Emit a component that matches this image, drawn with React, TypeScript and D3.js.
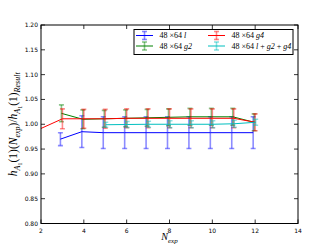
import React from 'react';
import * as d3 from 'd3';

// N_exp values and ratios
const xL = [3, 4, 5, 6, 7, 8, 9, 10, 11, 12];
const yL = [0.970, 0.985, 0.983, 0.983, 0.983, 0.983, 0.983, 0.983, 0.983, 0.983];
const eL = [0.013, 0.032, 0.032, 0.032, 0.032, 0.032, 0.032, 0.032, 0.032, 0.032];

const xG2 = [3, 4, 5, 6, 7, 8, 9, 10, 11, 12];
const yG2 = [1.022, 1.010, 1.011, 1.012, 1.013, 1.014, 1.015, 1.015, 1.015, 1.004];
const eG2 = [0.017, 0.019, 0.017, 0.017, 0.017, 0.017, 0.017, 0.017, 0.017, 0.017];

const xG4 = [1, 3, 4, 5, 6, 7, 8, 9, 10, 11, 12];
const yG4 = [0.972, 1.011, 1.011, 1.011, 1.012, 1.012, 1.012, 1.012, 1.012, 1.012, 1.004];
const eG4 = [0.02, 0.02, 0.019, 0.019, 0.019, 0.019, 0.019, 0.019, 0.019, 0.019, 0.017];

const xAll = [5, 6, 7, 8, 9, 10, 11, 12];
const yAll = [0.999, 0.9995, 1.0, 1.0, 1.0, 1.0, 1.001, 1.004];
const eAll = [0.005, 0.006, 0.006, 0.007, 0.007, 0.007, 0.007, 0.006];

const xTicks = [2, 4, 6, 8, 10, 12, 14];
const yTicks = [0.8, 0.85, 0.9, 0.95, 1.0, 1.05, 1.1, 1.15, 1.2];

const series = [
  { key: 'l', x: xL, y: yL, e: eL, color: '#0000ff', dx: -2, label: [['48 ×64 ', false], ['l', true]] },
  { key: 'g2', x: xG2, y: yG2, e: eG2, color: '#008000', dx: -1, label: [['48 ×64 ', false], ['g2', true]] },
  { key: 'g4', x: xG4, y: yG4, e: eG4, color: '#ff0000', dx: 0, label: [['48 ×64 ', false], ['g4', true]] },
  { key: 'all', x: xAll, y: yAll, e: eAll, color: '#00bfbf', dx: 0.5, label: [['48 ×64 ', false], ['l', true], [' + ', false], ['g2', true], [' + ', false], ['g4', true]] },
];

const W = 332, H = 249;
const left = 41, right = 298, top = 25, bottom = 223.5;

const serif = "'Liberation Serif', 'DejaVu Serif', serif";
const sans = "'DejaVu Sans', sans-serif";

// [text, italic, level]
const yLabelParts: [string, boolean, number][] = [
  ['h', true, 0], ['A', true, 1], ['1', false, 2], ['(1)(', false, 0], ['N', true, 0],
  ['exp', true, 1], [')/', false, 0], ['h', true, 0], ['A', true, 1], ['1', false, 2],
  ['(1)', false, 0], ['Result', true, 1],
];
const xLabelParts: [string, boolean, number][] = [['N', true, 0], ['exp', true, 1]];

function MathText({ parts, x, y, transform, sizes, shift }: any) {
  let prev = 0;
  return (
    <text x={x} y={y} transform={transform} textAnchor="middle" fontFamily={serif} fill="#000">
      {parts.map(([t, it, lv]: any, i: number) => {
        const dy = shift[lv] - shift[prev];
        prev = lv;
        return (
          <tspan key={i} dy={dy} fontSize={sizes[lv]} fontStyle={it ? 'italic' : 'normal'}>{t}</tspan>
        );
      })}
    </text>
  );
}

export default function App() {
  const x = d3.scaleLinear().domain([2, 14]).range([left, right]);
  const y = d3.scaleLinear().domain([0.8, 1.2]).range([bottom, top]);

  const legendPos = [
    { hx: 136, tx: 159.5, ty: 35.5 },
    { hx: 136, tx: 159.5, ty: 46 },
    { hx: 208, tx: 231.5, ty: 35.5 },
    { hx: 208, tx: 231.5, ty: 46 },
  ];

  return (
    <svg width={W} height={H} style={{ position: 'absolute', left: 0, top: 0, background: '#fff' }}>
      <defs>
        <clipPath id="plot">
          <rect x={left} y={top} width={right - left} height={bottom - top} />
        </clipPath>
      </defs>
      <g clipPath="url(#plot)">
        {series.map(s => {
          const pts = s.x.map((v, i) => ({ x: x(v) + s.dx, y: y(s.y[i]), lo: y(s.y[i] - s.e[i]), hi: y(s.y[i] + s.e[i]) }));
          const line = d3.line<any>().x(d => d.x).y(d => d.y);
          return (
            <g key={s.key}>
              {pts.map((p, i) => (
                <g key={i} stroke={s.color} strokeOpacity={0.45} strokeWidth={1.6}>
                  <line x1={p.x} x2={p.x} y1={p.lo} y2={p.hi} />
                  <line x1={p.x - 2.5} x2={p.x + 2.5} y1={p.lo} y2={p.lo} />
                  <line x1={p.x - 2.5} x2={p.x + 2.5} y1={p.hi} y2={p.hi} />
                </g>
              ))}
              <path d={line(pts) || ''} fill="none" stroke={s.color} strokeWidth={1} />
            </g>
          );
        })}
      </g>

      {/* frame */}
      <rect x={left} y={top} width={right - left} height={bottom - top} fill="none" stroke="#000" strokeWidth={1} />

      {xTicks.map(t => (
        <g key={t}>
          <line x1={x(t)} x2={x(t)} y1={bottom} y2={bottom - 4} stroke="#000" strokeWidth={0.8} />
          <line x1={x(t)} x2={x(t)} y1={top} y2={top + 4} stroke="#000" strokeWidth={0.8} />
          <text x={x(t)} y={bottom + 9} fontSize={6} fontFamily={sans} textAnchor="middle">{t}</text>
        </g>
      ))}
      {yTicks.map(t => (
        <g key={t}>
          <line x1={left} x2={left + 4} y1={y(t)} y2={y(t)} stroke="#000" strokeWidth={0.8} />
          <line x1={right} x2={right - 4} y1={y(t)} y2={y(t)} stroke="#000" strokeWidth={0.8} />
          <text x={left - 3} y={y(t) + 2} fontSize={6} fontFamily={sans} textAnchor="end">{d3.format('.2f')(t)}</text>
        </g>
      ))}

      <MathText parts={xLabelParts} x={(left + right) / 2} y={240} sizes={[10, 7, 5]} shift={[0, 2.5, 4]} />
      <MathText parts={yLabelParts} x={0} y={0} sizes={[11.5, 8, 6]} shift={[0, 3, 5]}
        transform={`translate(17,${(top + bottom) / 2}) rotate(-90)`} />

      {/* legend */}
      <rect x={134} y={29.5} width={159} height={25} fill="#fff" stroke="#000" strokeWidth={1} />
      {series.map((s, i) => {
        const p = legendPos[i];
        const cx = p.hx + 8.5;
        return (
          <g key={s.key}>
            <g stroke={s.color} strokeOpacity={0.45} strokeWidth={1.6}>
              <line x1={cx} x2={cx} y1={p.ty - 4} y2={p.ty + 4} />
              <line x1={cx - 2.5} x2={cx + 2.5} y1={p.ty - 4} y2={p.ty - 4} />
              <line x1={cx - 2.5} x2={cx + 2.5} y1={p.ty + 4} y2={p.ty + 4} />
            </g>
            <line x1={p.hx} x2={p.hx + 17} y1={p.ty} y2={p.ty} stroke={s.color} strokeWidth={1} />
            <text x={p.tx} y={p.ty + 2.8} fontSize={8} fontFamily={serif}>
              {s.label.map(([t, it]: any, j: number) => (
                <tspan key={j} fontStyle={it ? 'italic' : 'normal'} style={{ whiteSpace: 'pre' }}>{t}</tspan>
              ))}
            </text>
          </g>
        );
      })}
    </svg>
  );
}
